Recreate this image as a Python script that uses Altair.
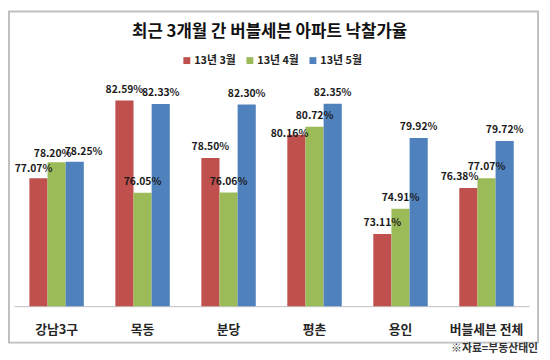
import altair as alt
import pandas as pd

# ---- data ----
categories = ["강남3구", "목동", "분당", "평촌", "용인", "버블세븐 전체"]
months = ["13년 3월", "13년 4월", "13년 5월"]
mar_vals = [77.07, 82.59, 78.50, 80.16, 73.11, 76.38]
apr_vals = [78.20, 76.05, 76.06, 80.72, 74.91, 77.07]
may_vals = [78.25, 82.33, 82.30, 82.35, 79.92, 79.72]
colors = ["#c0504d", "#9bbb59", "#4f81bd"]
title_text = "최근 3개월 간 버블세븐 아파트 낙찰가율"
note_text = "※자료=부동산태인"

rows = []
for m, vals in zip(months, [mar_vals, apr_vals, may_vals]):
    for c, v in zip(categories, vals):
        rows.append({"category": c, "month": m, "value": v})
df = pd.DataFrame(rows)

FONT = "Noto Sans CJK KR"

x_enc = alt.X(
    "category:N",
    sort=categories,
    scale=alt.Scale(paddingInner=0.367, paddingOuter=0.18),
    axis=alt.Axis(
        title=None,
        labelAngle=0,
        ticks=False,
        domainColor="#bfbfbf",
        domainWidth=1,
        labelPadding=18,
        labelFontSize=13,
        labelFontWeight="bold",
        labelColor="#262626",
        labelFont=FONT,
    ),
)
xoff_enc = alt.XOffset("month:N", sort=months, scale=alt.Scale(paddingInner=0, paddingOuter=0))
y_scale = alt.Scale(domain=[68, 84], zero=False, nice=False)

base = alt.Chart(df)

bars = base.mark_bar().encode(
    x=x_enc,
    xOffset=xoff_enc,
    y=alt.Y("value:Q", scale=y_scale, axis=None),
    y2=alt.datum(68),
    color=alt.Color(
        "month:N",
        sort=months,
        scale=alt.Scale(domain=months, range=colors),
        legend=alt.Legend(
            title=None,
            orient="none",
            direction="horizontal",
            legendX=170,
            legendY=-26,
            symbolType="square",
            symbolSize=49,
            symbolStrokeWidth=0,
            symbolOpacity=1,
            labelFontSize=11,
            labelFontWeight="bold",
            labelFont=FONT,
            labelColor="#222222",
            labelOffset=2,
            columnPadding=8,
            padding=0,
        ),
    ),
)


def value_labels(filter_expr, dx=0, dy=-6):
    return base.transform_filter(filter_expr).transform_calculate(
        label="format(datum.value, '.2f') + '%'"
    ).mark_text(
        baseline="bottom", dx=dx, dy=dy, fontSize=10.5, fontWeight="bold",
        font=FONT, color="#1a1a1a"
    ).encode(
        x=alt.X("category:N", sort=categories),
        xOffset=alt.XOffset("month:N", sort=months),
        y=alt.Y("value:Q", scale=y_scale, axis=None),
        text="label:N",
    )


# labels shifted as in the original (which nudged crowded labels apart)
c_g1 = f"datum.category == '{categories[0]}'"
c_pc = f"datum.category == '{categories[3]}'"
c_all = f"datum.category == '{categories[5]}'"
m3 = f"datum.month == '{months[0]}'"
m4 = f"datum.month == '{months[1]}'"
m5 = f"datum.month == '{months[2]}'"

nudged = [
    (f"{c_g1} && {m3}", -5, -4),
    (f"{c_g1} && {m4}", -4, -3),
    (f"{c_g1} && {m5}", 9, -5),
    (f"{c_pc} && {m3}", -7, 4),
    (f"{c_all} && {m3}", -9, -6),
]
default_filter = " && ".join(f"!({f})" for f, _, _ in nudged)

label_layers = [value_labels(default_filter)] + [
    value_labels(f, dx, dy) for f, dx, dy in nudged
]

title = alt.Chart(pd.DataFrame({"t": [title_text]})).mark_text(
    fontSize=17, fontWeight="bold", font=FONT, color="#111111", baseline="middle", align="center"
).encode(text="t:N", x=alt.value(259.5), y=alt.value(-49))

note = alt.Chart(pd.DataFrame({"t": [note_text]})).mark_text(
    fontSize=11, fontWeight="bold", font=FONT, color="#333333", baseline="middle", align="right"
).encode(text="t:N", x=alt.value(532), y=alt.value(273))

frame = alt.Chart(pd.DataFrame({"a": [0]})).mark_rect(
    fill="transparent", stroke="#bfbfbf", strokeWidth=2
).encode(x=alt.value(-5), x2=alt.value(532), y=alt.value(-70), y2=alt.value(266))

chart = alt.layer(frame, bars, *label_layers, title, note).properties(
    width=523,
    height=229,
    autosize=alt.AutoSizeParams(type="none"),
    padding={"left": 6, "top": 71, "right": 13, "bottom": 52},
).configure_view(stroke=None)

chart.save("out.html", embed_options={"renderer": "svg", "actions": False})
